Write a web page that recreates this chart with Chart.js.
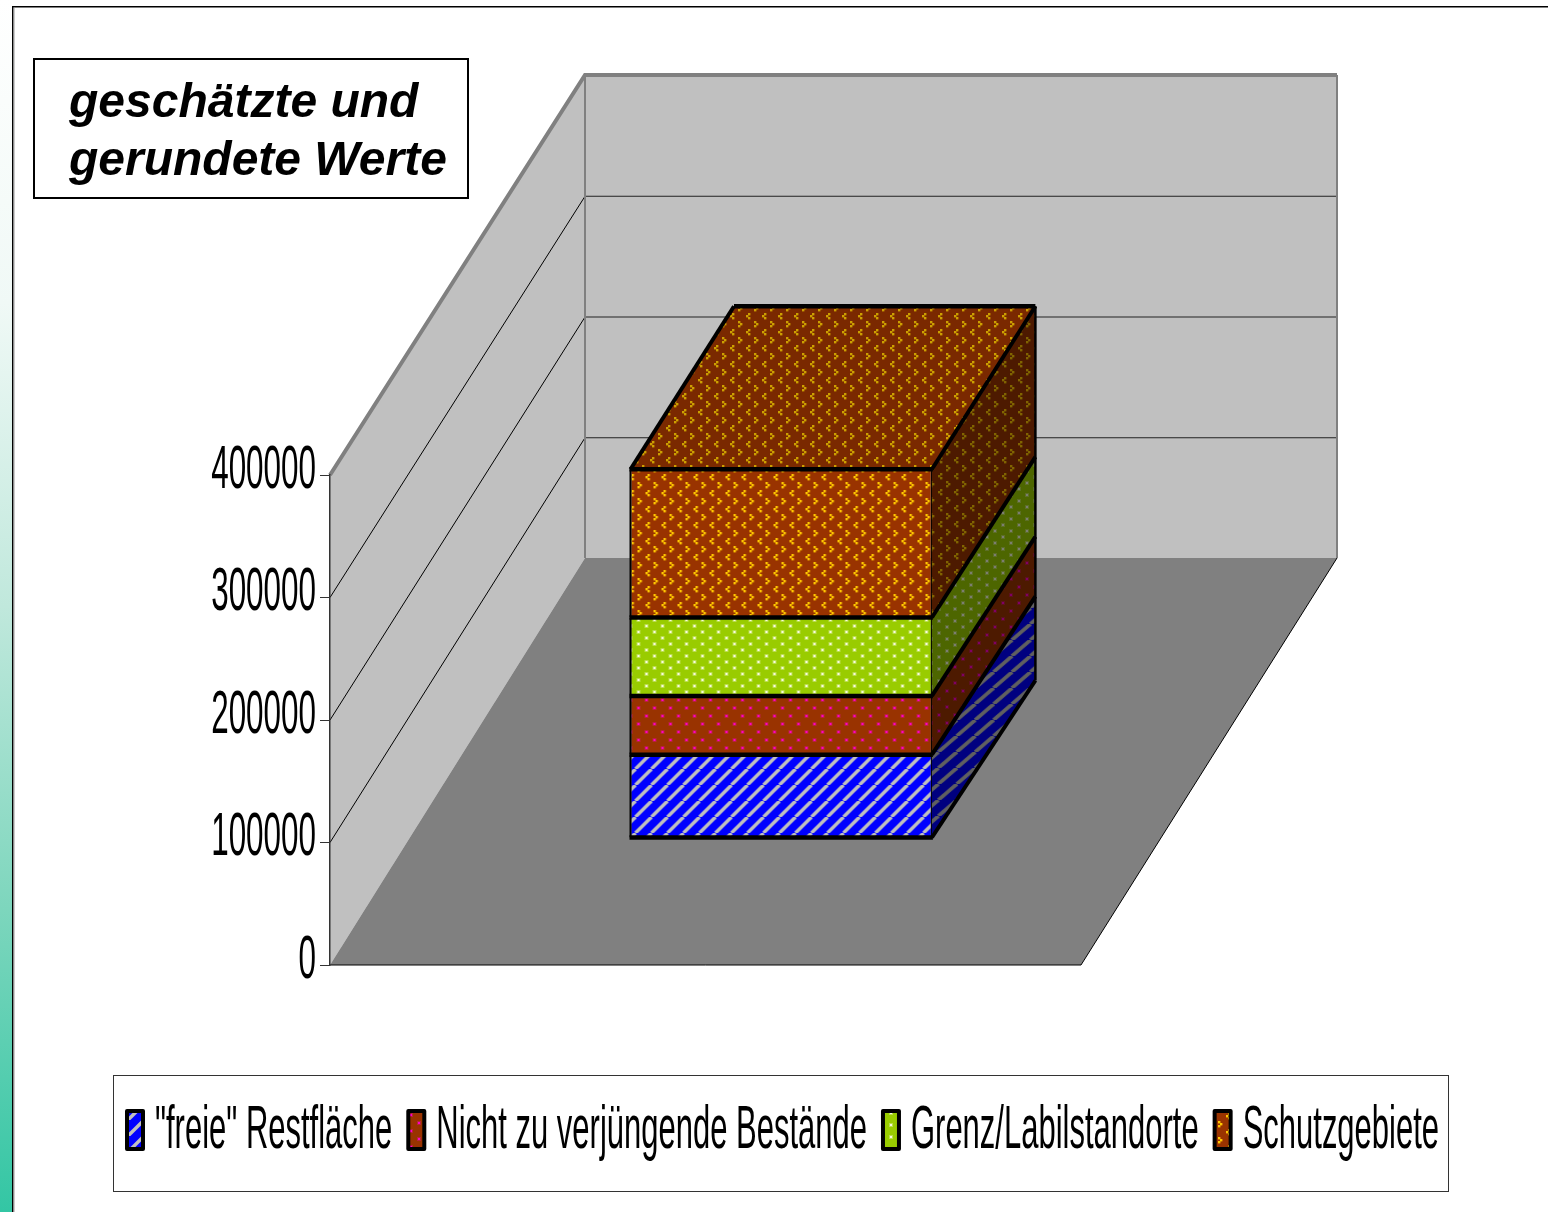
<!DOCTYPE html>
<html><head><meta charset="utf-8">
<style>html,body{margin:0;padding:0;background:#fff}canvas{display:block}</style>
<script src="https://cdn.jsdelivr.net/npm/chart.js@4"></script>
</head><body>
<div style="width:1548px;height:1212px"><canvas id="c" width="1548" height="1212"></canvas></div>
<script>
const categories = [''];
const seriesNames = ['"freie" Restfläche', 'Nicht zu verjüngende Bestände', 'Grenz/Labilstandorte', 'Schutzgebiete'];
const freieValues = [68000];
const nichtValues = [48000];
const grenzValues = [64000];
const schutzValues = [121000];
const yTickStep = 100000;
const yMax = 400000;
const titleLines = ['geschätzte und', 'gerundete Werte'];

const canvas = document.getElementById('c');
const ctx = canvas.getContext('2d');
const NARROW = 61, SX_TICK = 0.515, SX_LEGEND = 0.508;
const rawFillText = ctx.fillText.bind(ctx);
function narrowText(t, x, y, sx) {
  ctx.save(); ctx.translate(x, y); ctx.scale(sx, 1); rawFillText(t, 0, 0); ctx.restore();
}
ctx.fillText = function (t, x, y, w) {
  if (ctx.font.startsWith(NARROW + 'px')) narrowText(t, x, y - 4, SX_TICK);
  else rawFillText(t, x, y, w);
};

function tile(w, h, bg, paint, shade) {
  const t = document.createElement('canvas'); t.width = w; t.height = h;
  const g = t.getContext('2d');
  g.fillStyle = bg; g.fillRect(0, 0, w, h);
  paint(g);
  if (shade < 1) {
    g.globalCompositeOperation = 'multiply';
    const v = Math.round(255 * shade);
    g.fillStyle = `rgb(${v},${v},${v})`; g.fillRect(0, 0, w, h);
  }
  return ctx.createPattern(t, 'repeat');
}
function dot(g, x, y, color, halo) {
  g.globalAlpha = halo; g.fillStyle = color; g.fillRect(x - 1, y - 1, 4, 4);
  g.globalAlpha = 1; g.fillRect(x, y, 2, 2);
}
function stripes(g) {
  g.strokeStyle = '#C0C0C0'; g.lineWidth = 3.4;
  for (let i = -16; i <= 32; i += 16) { g.beginPath(); g.moveTo(i, 16); g.lineTo(i + 16, 0); g.stroke(); }
}
function magentaDots(g) {
  for (const [x, y] of [[2, 2], [10, 10]]) dot(g, x, y, '#FF00C8', 0.3);
}
function paleDots(g) {
  for (const [x, y] of [[2, 2], [10, 8]]) dot(g, x, y, '#F8FBE0', 0.35);
}
function chevrons(g) {
  g.fillStyle = '#FFC800';
  const px = (x, y) => g.fillRect(x, y, 2.4, 2.4);
  px(2, 1); px(4, 3); px(2, 5);
  px(12, 9); px(10, 11); px(12, 13);
}
const paints = [
  [16, 16, '#0000FF', stripes],
  [16, 16, '#993300', magentaDots],
  [16, 12, '#99CC00', paleDots],
  [16, 16, '#993300', chevrons]
];
const patterns = (s) => paints.map(p => tile(p[0], p[1], p[2], p[3], s));
const frontFill = patterns(1), sideFill = patterns(0.5), topFill = patterns(0.8);
sideFill[0].setTransform(new DOMMatrix([1.15, 0, 0, 1, 0, 0]));

const WALL_DX = 256, BACK_TOP = 75, BACK_BOTTOM = 558;
const BAR_SHIFT_X = 75.5, BAR_SHIFT_Y = -127, BAR_DX = 103.5, BAR_DY_BOTTOM = 157, BAR_DY_TOP = 163;

const threeD = {
  id: 'threeD',
  beforeDraw(chart) {
    const { left, right, top, bottom } = chart.chartArea;
    const y = chart.scales.y;
    const c = chart.ctx;
    const bx = left + WALL_DX - 1, brx = right + WALL_DX;
    const back = v => BACK_BOTTOM - (BACK_BOTTOM - BACK_TOP) * (v - y.min) / (y.max - y.min) + 0.5;
    c.save();
    // page
    const g = c.createLinearGradient(0, 0, 0, 1212);
    g.addColorStop(0, '#ffffff'); g.addColorStop(0.25, '#f0f9f6'); g.addColorStop(0.5, '#c0e8dc'); g.addColorStop(0.75, '#7dd6bd'); g.addColorStop(1, '#33C6A4');
    c.fillStyle = g; c.fillRect(0, 0, 12, 1212);
    c.fillStyle = '#000'; c.fillRect(12, 6, 1536, 1.5); c.fillRect(12, 6, 1.5, 1206);
    c.fillStyle = '#999'; c.fillRect(13.5, 7.5, 1, 1204.5);
    // walls
    c.fillStyle = '#C0C0C0';
    c.beginPath(); c.moveTo(bx, BACK_TOP); c.lineTo(brx, BACK_TOP); c.lineTo(brx, BACK_BOTTOM); c.lineTo(bx, BACK_BOTTOM); c.closePath(); c.fill();
    c.beginPath(); c.moveTo(left, top); c.lineTo(bx, BACK_TOP); c.lineTo(bx, BACK_BOTTOM); c.lineTo(left, bottom); c.closePath(); c.fill();
    c.fillStyle = '#808080';
    c.beginPath(); c.moveTo(left, bottom); c.lineTo(right, bottom); c.lineTo(brx, BACK_BOTTOM); c.lineTo(bx, BACK_BOTTOM); c.closePath(); c.fill();
    // grid
    c.lineWidth = 1;
    for (let v = yTickStep; v < yMax; v += yTickStep) {
      const p = back(v);
      c.strokeStyle = '#222';
      c.beginPath(); c.moveTo(bx, p); c.lineTo(brx, p); c.stroke();
      c.strokeStyle = '#000';
      c.beginPath(); c.moveTo(left, y.getPixelForValue(v)); c.lineTo(bx, p); c.stroke();
    }
    // floor edges
    c.strokeStyle = '#000'; c.lineWidth = 1;
    c.beginPath(); c.moveTo(left, bottom); c.lineTo(right, bottom); c.lineTo(brx, BACK_BOTTOM); c.stroke();
    // wall edges
    c.strokeStyle = '#808080'; c.lineWidth = 2;
    c.beginPath(); c.moveTo(bx, BACK_TOP); c.lineTo(bx, BACK_BOTTOM); c.stroke();
    c.beginPath(); c.moveTo(brx, BACK_TOP); c.lineTo(brx, BACK_BOTTOM); c.stroke();
    c.lineWidth = 4;
    c.beginPath(); c.moveTo(left, top); c.lineTo(bx, BACK_TOP); c.lineTo(brx, BACK_TOP); c.stroke();
    // title box
    c.fillStyle = '#fff'; c.fillRect(33, 58, 435, 140);
    c.strokeStyle = '#000'; c.lineWidth = 2; c.strokeRect(34, 59, 434, 139);
    c.fillStyle = '#000'; c.font = 'italic bold 48px "Liberation Sans"'; c.textBaseline = 'alphabetic'; c.textAlign = 'left';
    titleLines.forEach((t, i) => rawFillText(t, 69, 117 + 58 * i));
    // legend
    c.fillStyle = '#fff'; c.fillRect(113, 1075, 1336, 117);
    c.strokeStyle = '#333'; c.lineWidth = 1; c.strokeRect(113.5, 1075.5, 1335, 116);
    let x = 127;
    seriesNames.forEach((name, i) => {
      c.fillStyle = frontFill[i]; c.fillRect(x, 1111, 16, 38);
      c.strokeStyle = '#000'; c.lineWidth = 4; c.lineJoin = 'round'; c.strokeRect(x, 1111, 16, 38);
      c.fillStyle = '#000'; c.font = NARROW + 'px "Liberation Sans"'; c.textBaseline = 'alphabetic'; c.textAlign = 'left';
      const tx = x + 28;
      narrowText(name, tx, 1148, SX_LEGEND);
      x = tx + c.measureText(name).width * SX_LEGEND + 16;
    });
    c.restore();
  },
  beforeDatasetDraw(chart) { chart.ctx.save(); chart.ctx.translate(BAR_SHIFT_X, BAR_SHIFT_Y); },
  afterDatasetDraw(chart) { chart.ctx.restore(); },
  afterDatasetsDraw(chart) {
    const c = chart.ctx;
    const metas = chart.data.datasets.map((d, i) => chart.getDatasetMeta(i).data[0]);
    const L = metas[0].x - metas[0].width / 2 + BAR_SHIFT_X + 1.2;
    const R = metas[0].x + metas[0].width / 2 + BAR_SHIFT_X - 0.8;
    const base = metas[0].base + BAR_SHIFT_Y;
    const tops = metas.map(m => m.y + BAR_SHIFT_Y);
    const topY = tops[tops.length - 1];
    const span = base - topY;
    const dy = p => BAR_DY_BOTTOM + (BAR_DY_TOP - BAR_DY_BOTTOM) * (base - p) / span;
    const edges = [base, ...tops];
    c.save();
    c.lineJoin = 'round';
    // sides
    metas.forEach((m, i) => {
      const a = edges[i], b = edges[i + 1];
      c.fillStyle = sideFill[i];
      c.beginPath(); c.moveTo(R, a); c.lineTo(R + BAR_DX, a - dy(a)); c.lineTo(R + BAR_DX, b - dy(b)); c.lineTo(R, b); c.closePath(); c.fill();
    });
    // top
    c.fillStyle = topFill[3];
    c.beginPath(); c.moveTo(L, topY); c.lineTo(L + BAR_DX, topY - dy(topY)); c.lineTo(R + BAR_DX, topY - dy(topY)); c.lineTo(R, topY); c.closePath(); c.fill();
    // outlines
    c.strokeStyle = '#000';
    c.lineWidth = 4;
    edges.forEach(p => { c.beginPath(); c.moveTo(R, p); c.lineTo(R + BAR_DX, p - dy(p)); c.stroke(); });
    c.beginPath(); c.moveTo(L, topY); c.lineTo(L + BAR_DX, topY - dy(topY)); c.stroke();
    c.lineWidth = 4.5;
    c.beginPath(); c.moveTo(L + BAR_DX, topY - dy(topY)); c.lineTo(R + BAR_DX, topY - dy(topY)); c.stroke();
    c.lineWidth = 2.5;
    c.beginPath(); c.moveTo(R + BAR_DX, topY - dy(topY)); c.lineTo(R + BAR_DX, base - dy(base)); c.stroke();
    c.lineWidth = 4.5;
    edges.forEach(p => { c.beginPath(); c.moveTo(L - 1, p); c.lineTo(R + 1, p); c.stroke(); });
    c.restore();
  }
};

const seriesValues = [freieValues, nichtValues, grenzValues, schutzValues];
new Chart(ctx, {
  type: 'bar',
  data: {
    labels: categories,
    datasets: seriesNames.map((name, i) => ({
      label: name,
      data: seriesValues[i],
      backgroundColor: frontFill[i],
      borderColor: '#000',
      borderWidth: { left: 2.4, right: 2, top: 0, bottom: 0 },
      borderSkipped: false,
      barPercentage: 0.404,
      categoryPercentage: 1,
      clip: false
    }))
  },
  options: {
    responsive: false,
    animation: false,
    layout: { autoPadding: false, padding: { left: 0, top: 475, right: 467, bottom: 247 } },
    plugins: { legend: { display: false }, title: { display: false }, tooltip: { enabled: false } },
    scales: {
      x: { stacked: true, display: false },
      y: {
        stacked: true, min: 0, max: yMax,
        afterFit(s) { s.width = 330; },
        ticks: { stepSize: yTickStep, color: '#000', padding: 4, font: { family: 'Liberation Sans', size: NARROW }, callback: v => String(v), autoSkip: false },
        grid: { drawOnChartArea: false, tickLength: 10, color: '#333', lineWidth: 1 },
        border: { display: true, color: '#333', width: 1.5 }
      }
    }
  },
  plugins: [threeD]
});
</script>
</body></html>
